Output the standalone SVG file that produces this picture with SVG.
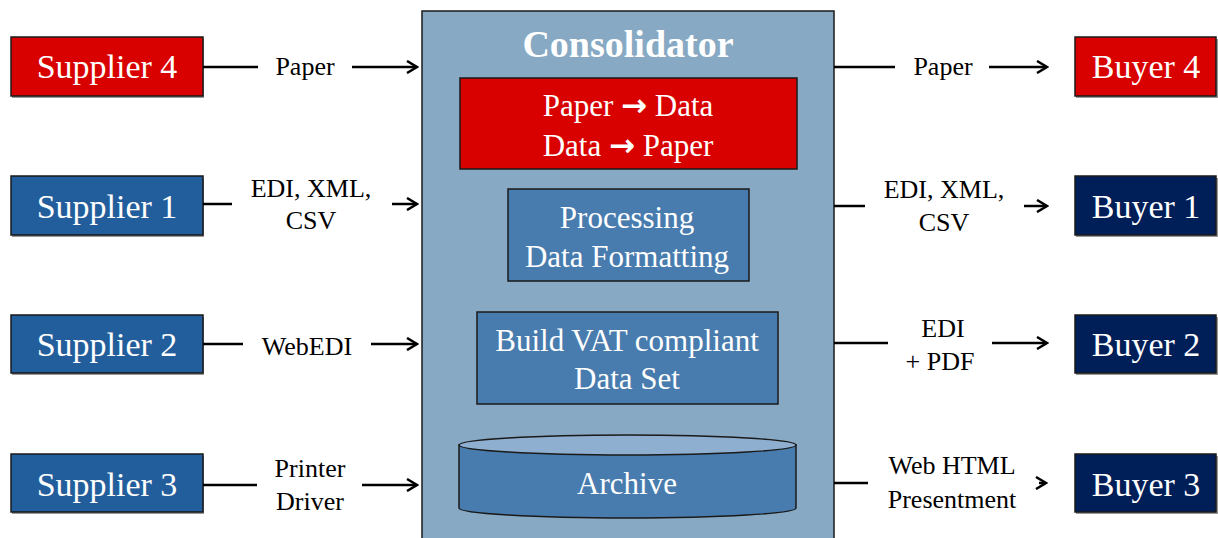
<svg xmlns="http://www.w3.org/2000/svg" width="1218" height="538" viewBox="0 0 1218 538">
<style>
.box{stroke:#1a1a1a;stroke-width:1.5}
.red{fill:#D90000}
.sup{fill:#235E9C}
.buy{fill:#001E58}
.inner{fill:#487CAE;stroke:#1a1a1a;stroke-width:1.5}
.shadow{fill:#9a9a9a}
text{font-family:'Liberation Serif','DejaVu Serif',serif}
.t{fill:#fff;text-anchor:middle}
.big{font-size:34px}
.mid{font-size:31px}
.arr{font-family:'DejaVu Sans',sans-serif;font-weight:bold;font-size:31px}
.lbl{fill:#000;font-size:26px;text-anchor:middle}
.ln{stroke:#000;stroke-width:2.5;fill:none}
</style>
<defs>
<marker id="ah" markerWidth="14" markerHeight="14" refX="12" refY="7" orient="auto" markerUnits="userSpaceOnUse">
<polyline points="2,1 12,7 2,13" fill="none" stroke="#000" stroke-width="2.5"/>
</marker>
</defs>
<rect width="1218" height="538" fill="#fff"/>

<g id="consolidator">
<rect x="422" y="11" width="412" height="540" fill="#87A9C3" stroke="#1a1a1a" stroke-width="1.5"/>
<text x="628" y="57" class="t" font-size="38" font-weight="bold">Consolidator</text>
</g>

<g id="paperdata">
<rect x="460" y="78" width="337" height="91" class="red box"/>
<text x="628" y="116" class="t" font-size="31">Paper <tspan class="arr">→</tspan> Data</text>
<text x="628" y="156" class="t" font-size="31">Data <tspan class="arr">→</tspan> Paper</text>
</g>

<g id="processing">
<rect x="508" y="189" width="241" height="92" class="inner"/>
<text x="627" y="228" class="t mid">Processing</text>
<text x="627" y="267" class="t mid">Data Formatting</text>
</g>

<g id="buildvat">
<rect x="477" y="312" width="301" height="92" class="inner"/>
<text x="627" y="351" class="t mid">Build VAT compliant</text>
<text x="627" y="389" class="t mid">Data Set</text>
</g>

<g id="archive">
<path d="M459,445 L459,508 A168.5,10 0 0 0 796,508 L796,445 Z" fill="#487CAE" stroke="#1a1a1a" stroke-width="1.5"/>
<ellipse cx="627.5" cy="445" rx="168.5" ry="10" fill="#8EAFD0" stroke="#1a1a1a" stroke-width="1.5"/>
<text x="627" y="494" class="t mid">Archive</text>
</g>

<g id="supplier4">
<rect x="12" y="39" width="192" height="59" class="shadow"/>
<rect x="11" y="37" width="192" height="59" class="red box"/>
<text x="107" y="78" class="t big">Supplier 4</text>
</g>
<g id="supplier1">
<rect x="12" y="178" width="192" height="59" class="shadow"/>
<rect x="11" y="176" width="192" height="59" class="sup box"/>
<text x="107" y="218" class="t big">Supplier 1</text>
</g>
<g id="supplier2">
<rect x="12" y="317" width="192" height="58" class="shadow"/>
<rect x="11" y="315" width="192" height="58" class="sup box"/>
<text x="107" y="356" class="t big">Supplier 2</text>
</g>
<g id="supplier3">
<rect x="12" y="456" width="192" height="58" class="shadow"/>
<rect x="11" y="454" width="192" height="58" class="sup box"/>
<text x="107" y="496" class="t big">Supplier 3</text>
</g>

<g id="buyer4">
<rect x="1076" y="39" width="142" height="59" class="shadow"/>
<rect x="1075" y="37" width="141" height="59" class="red box"/>
<text x="1146" y="78" class="t big">Buyer 4</text>
</g>
<g id="buyer1">
<rect x="1076" y="178" width="142" height="59" class="shadow"/>
<rect x="1075" y="176" width="141" height="59" class="buy box"/>
<text x="1146" y="218" class="t big">Buyer 1</text>
</g>
<g id="buyer2">
<rect x="1076" y="317" width="142" height="58" class="shadow"/>
<rect x="1075" y="315" width="141" height="58" class="buy box"/>
<text x="1146" y="356" class="t big">Buyer 2</text>
</g>
<g id="buyer3">
<rect x="1076" y="456" width="142" height="58" class="shadow"/>
<rect x="1075" y="454" width="141" height="58" class="buy box"/>
<text x="1146" y="496" class="t big">Buyer 3</text>
</g>

<g id="connectors">
<line x1="203" y1="67" x2="258" y2="67" class="ln"/>
<line x1="352" y1="67" x2="417" y2="67" class="ln" marker-end="url(#ah)"/>
<text x="305" y="75" class="lbl">Paper</text>

<line x1="203" y1="204" x2="232" y2="204" class="ln"/>
<line x1="392" y1="204" x2="417" y2="204" class="ln" marker-end="url(#ah)"/>
<text x="311" y="197" class="lbl">EDI, XML,</text>
<text x="311" y="229" class="lbl">CSV</text>

<line x1="203" y1="344" x2="243" y2="344" class="ln"/>
<line x1="371" y1="344" x2="417" y2="344" class="ln" marker-end="url(#ah)"/>
<text x="307" y="355" class="lbl">WebEDI</text>

<line x1="203" y1="485" x2="257" y2="485" class="ln"/>
<line x1="362" y1="485" x2="417" y2="485" class="ln" marker-end="url(#ah)"/>
<text x="310" y="477" class="lbl">Printer</text>
<text x="310" y="510" class="lbl">Driver</text>

<line x1="834" y1="67" x2="895" y2="67" class="ln"/>
<line x1="989" y1="67" x2="1047" y2="67" class="ln" marker-end="url(#ah)"/>
<text x="943" y="75" class="lbl">Paper</text>

<line x1="834" y1="206" x2="865" y2="206" class="ln"/>
<line x1="1024" y1="206" x2="1047" y2="206" class="ln" marker-end="url(#ah)"/>
<text x="944" y="198" class="lbl">EDI, XML,</text>
<text x="944" y="231" class="lbl">CSV</text>

<line x1="834" y1="343" x2="888" y2="343" class="ln"/>
<line x1="992" y1="343" x2="1047" y2="343" class="ln" marker-end="url(#ah)"/>
<text x="943" y="337" class="lbl">EDI</text>
<text x="940" y="370" class="lbl">+ PDF</text>

<line x1="834" y1="483" x2="868" y2="483" class="ln"/>
<line x1="1039" y1="483" x2="1046" y2="483" class="ln" marker-end="url(#ah)"/>
<text x="952" y="474" class="lbl">Web HTML</text>
<text x="952" y="508" class="lbl">Presentment</text>
</g>
</svg>
